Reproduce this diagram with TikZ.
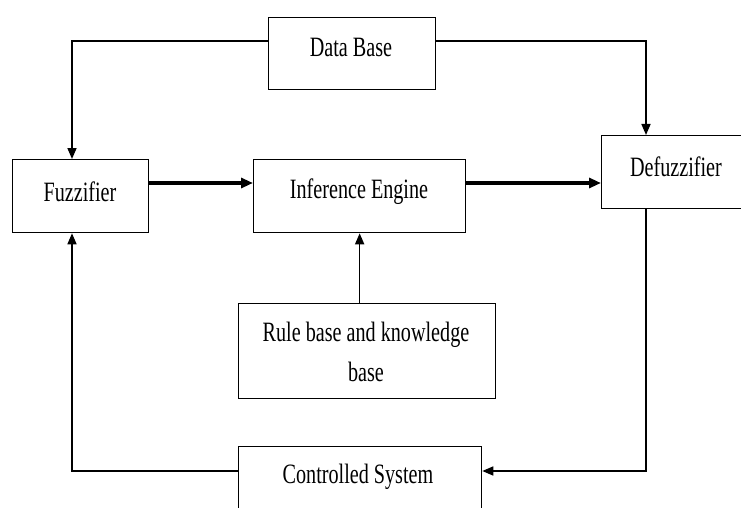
\documentclass[tikz,border=0pt]{standalone}
\usepackage{fontspec}
\setmainfont{Liberation Serif}[FakeStretch=0.72]
\usetikzlibrary{arrows.meta}
\tikzset{
  box/.style={draw=black, line width=1.3pt, fill=white, inner sep=0pt, anchor=north west},
  lbl/.style={font=\fontsize{28}{37}\selectfont, inner sep=0pt, align=center},
  conn/.style={line width=1.6pt, -{Triangle[length=11pt,width=9pt]}},
  thick conn/.style={line width=3.2pt, -{Triangle[length=12pt,width=10pt]}},
  plain/.style={line width=1.6pt}
}
\begin{document}
\begin{tikzpicture}[x=1pt,y=-1pt]
\clip (0,0) rectangle (741,508);
\fill[white] (0,0) rectangle (741,508);
% boxes
\node[box, minimum width=167pt, minimum height=72pt] (db) at (268,17) {};
\node[box, minimum width=136pt, minimum height=73pt] (fz) at (12,159) {};
\node[box, minimum width=212pt, minimum height=73pt] (ie) at (253,159) {};
\node[box, minimum width=150pt, minimum height=73pt] (dz) at (601,135) {};
\node[box, minimum width=257pt, minimum height=95pt] (rb) at (238,303) {};
\node[box, minimum width=243pt, minimum height=80pt] (cs) at (238,446) {};
% labels
\node[lbl] (tdb) at (351,47) {Data Base};
\node[lbl] (tfz) at (80,192) {Fuzzifier};
\node[lbl] (tie) at (359,192) {Inference Engine};
\node[lbl] (tdz) at (676,167) {Defuzzifier};
\node[lbl] (trb1) at (366,335) {Rule base and knowledge};
\node[lbl] (trb2) at (366,372) {base};
\node[lbl] (tcs) at (358,477) {Controlled System};
% connectors
\draw[conn] ([yshift=-24pt]db.north west) -| ([xshift=60pt]fz.north west);
\draw[conn] ([yshift=-24pt]db.north east) -| ([xshift=45pt]dz.north west);
\draw[thick conn] ([yshift=-24pt]fz.north east) -- ([yshift=-24pt]ie.north west);
\draw[thick conn] ([yshift=-24pt]ie.north east) -- ([yshift=-48pt]dz.north west);
\draw[conn] (rb.north -| ie.south) -- (ie.south);
\draw[conn] ([xshift=45pt]dz.south west) |- ([yshift=-25pt]cs.north east);
\draw[conn] ([yshift=-25pt]cs.north west) -| ([xshift=60pt]fz.south west);
\end{tikzpicture}
\end{document}
